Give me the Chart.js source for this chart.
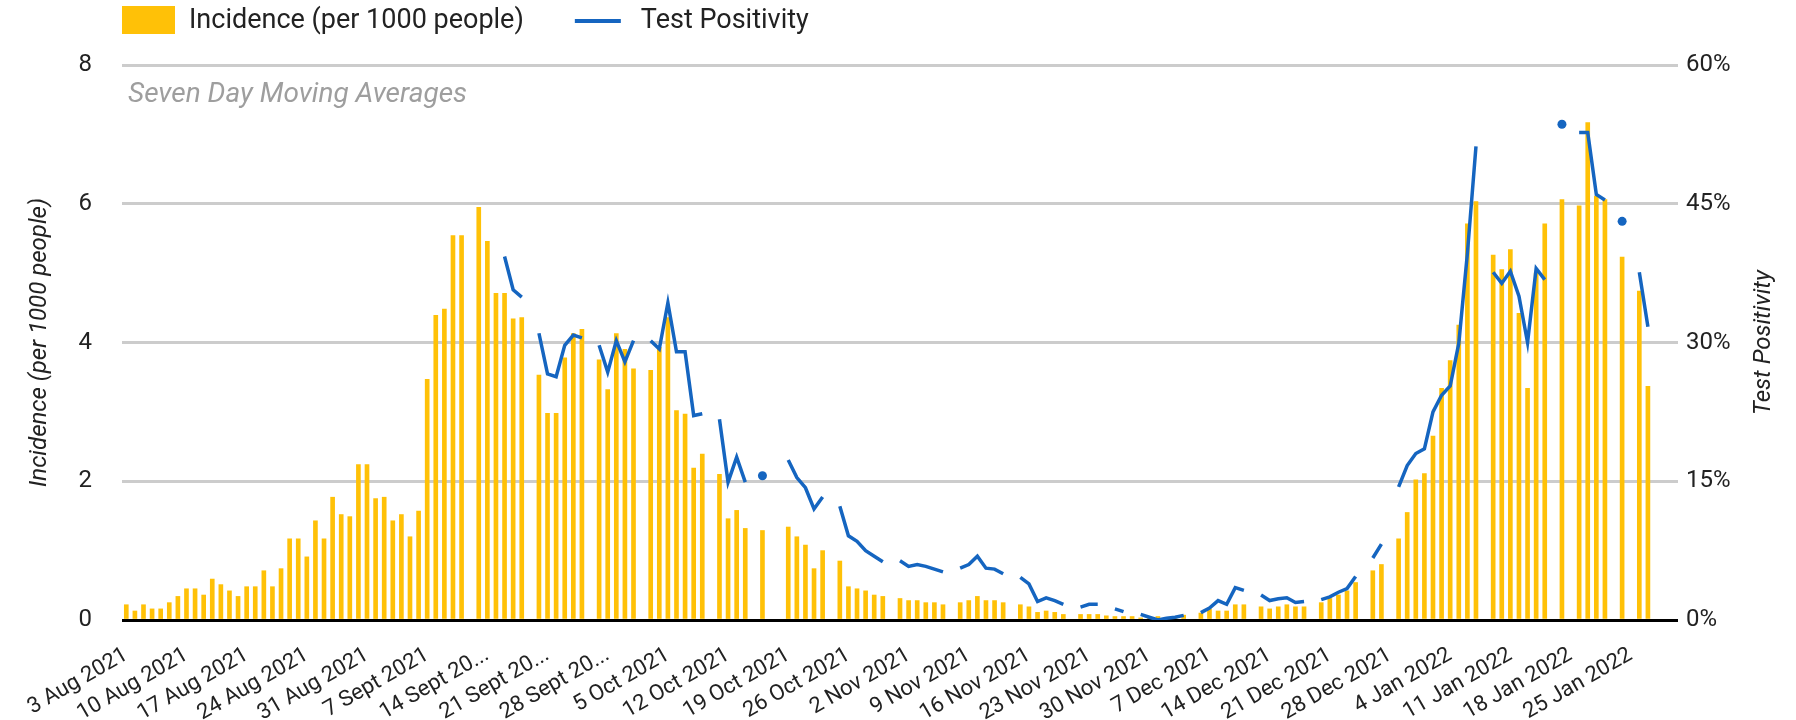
<!DOCTYPE html>
<html>
<head>
<meta charset="utf-8">
<script src="https://cdn.jsdelivr.net/npm/chart.js@4/dist/chart.umd.min.js"></script>
<style>
  body { margin: 0; background: #fff; }
</style>
</head>
<body>
<canvas id="covidChart" width="1796" height="720"></canvas>
<script>
// daily values from 3 Aug 2021 to 30 Jan 2022 (null = no data that day)
const incidence = [
  0.22, 0.13, 0.22, 0.16, 0.16, 0.25, 0.34, 0.45, 0.45, 0.36,
  0.59, 0.51, 0.42, 0.34, 0.48, 0.48, 0.71, 0.48, 0.74, 1.17,
  1.17, 0.91, 1.43, 1.17, 1.77, 1.52, 1.49, 2.24, 2.24, 1.75,
  1.77, 1.43, 1.52, 1.20, 1.57, 3.47, 4.39, 4.48, 5.54, 5.54,
  null, 5.95, 5.46, 4.71, 4.71, 4.34, 4.36, null, 3.53, 2.98,
  2.98, 3.78, 4.13, 4.19, null, 3.75, 3.32, 4.13, 3.90, 3.62,
  null, 3.60, 3.93, 4.36, 3.02, 2.97, 2.19, 2.39, null, 2.10,
  1.46, 1.58, 1.32, null, 1.29, null, null, 1.34, 1.20, 1.08,
  0.74, 1.00, null, 0.85, 0.48, 0.45, 0.42, 0.36, 0.34, null,
  0.31, 0.28, 0.28, 0.25, 0.25, 0.22, null, 0.25, 0.28, 0.34,
  0.28, 0.28, 0.25, null, 0.22, 0.19, 0.11, 0.13, 0.11, 0.08,
  null, 0.08, 0.08, 0.08, 0.06, 0.05, 0.05, 0.05, 0.03, 0.03,
  0.05, 0.03, 0.03, 0.07, null, 0.10, 0.16, 0.13, 0.13, 0.22,
  0.22, null, 0.19, 0.16, 0.19, 0.22, 0.19, 0.19, null, 0.25,
  0.31, 0.36, 0.42, 0.54, null, 0.71, 0.80, null, 1.17, 1.55,
  2.02, 2.11, 2.65, 3.34, 3.74, 4.25, 5.71, 6.03, null, 5.26,
  5.05, 5.34, 4.42, 3.34, 5.00, 5.71, null, 6.06, null, 5.97,
  7.17, 6.11, 6.06, null, 5.23, null, 4.74, 3.37, null, null,
  null
];

const positivity = [
  null, null, null, null, null, null, null, null, null, null,
  null, null, null, null, null, null, null, null, null, null,
  null, null, null, null, null, null, null, null, null, null,
  null, null, null, null, null, null, null, null, null, null,
  null, null, null, null, 39.3, 35.7, 34.9, null, 31.0, 26.6,
  26.3, 29.7, 30.8, 30.5, null, 29.7, 26.8, 30.2, 27.9, 30.2,
  null, 30.2, 29.3, 34.3, 29.0, 29.0, 22.1, 22.3, null, 21.7,
  14.9, 17.6, 14.9, null, 15.6, null, null, 17.3, 15.4, 14.3,
  12.0, 13.3, null, 12.3, 9.1, 8.5, 7.5, 6.9, 6.3, null,
  6.4, 5.8, 6.0, 5.8, 5.5, 5.2, null, 5.6, 6.0, 6.9,
  5.6, 5.5, 5.0, null, 4.6, 3.9, 2.0, 2.4, 2.1, 1.7,
  null, 1.4, 1.7, 1.7, null, 1.2, 0.9, null, 0.6, 0.3,
  0.0, 0.2, 0.3, 0.5, null, 0.8, 1.3, 2.1, 1.7, 3.5,
  3.2, null, 2.7, 2.1, 2.3, 2.4, 1.9, 2.0, null, 2.2,
  2.5, 3.0, 3.4, 4.7, null, 6.7, 8.2, null, 14.4, 16.7,
  18.0, 18.5, 22.5, 24.3, 25.3, 29.9, 39.6, 51.2, null, 37.6,
  36.4, 37.7, 35.0, 30.0, 38.0, 36.8, null, 53.6, null, 52.7,
  52.7, 46.0, 45.4, null, 43.1, null, 37.6, 31.7, null, null,
  null
];

// one label per week, as printed under the axis
const tickLabels = [
  '3 Aug 2021', '10 Aug 2021', '17 Aug 2021', '24 Aug 2021', '31 Aug 2021',
  '7 Sept 2021', '14 Sept 20...', '21 Sept 20...', '28 Sept 20...',
  '5 Oct 2021', '12 Oct 2021', '19 Oct 2021', '26 Oct 2021',
  '2 Nov 2021', '9 Nov 2021', '16 Nov 2021', '23 Nov 2021', '30 Nov 2021',
  '7 Dec 2021', '14 Dec 2021', '21 Dec 2021', '28 Dec 2021',
  '4 Jan 2022', '11 Jan 2022', '18 Jan 2022', '25 Jan 2022'
];

const barColor = '#FFC107';
const lineColor = '#1565C0';
const textColor = '#222222';

// category labels: one per day
const days = [];
const start = new Date(2021, 7, 3);
for (let i = 0; i < incidence.length; i++) {
  const d = new Date(start);
  d.setDate(start.getDate() + i);
  days.push(d.toDateString());
}

// google-style dot for values with no neighbours
function isolatedRadius(ctx) {
  const i = ctx.dataIndex;
  const d = ctx.dataset.data;
  if (d[i] == null) return 0;
  const prev = i > 0 ? d[i - 1] : null;
  const next = i < d.length - 1 ? d[i + 1] : null;
  return (prev == null && next == null) ? 4.5 : 0;
}

const overlay = {
  id: 'overlay',
  afterDraw(chart) {
    const c = chart.ctx;
    const a = chart.chartArea;
    const line = chart.data.datasets[0];
    const bar = chart.data.datasets[1];
    c.save();
    c.textBaseline = 'middle';

    // legend
    c.font = '27px Roboto';
    c.fillStyle = bar.backgroundColor;
    c.fillRect(a.left, 6, 53, 28);
    c.fillStyle = textColor;
    c.fillText(bar.label, a.left + 67, 21);
    const lx = a.left + 67 + c.measureText(bar.label).width + 51;
    c.strokeStyle = line.borderColor;
    c.lineWidth = 4;
    c.beginPath();
    c.moveTo(lx, 21);
    c.lineTo(lx + 46, 21);
    c.stroke();
    c.fillText(line.label, lx + 66, 21);

    // subtitle inside the plot
    c.font = 'italic 28px Roboto';
    c.fillStyle = '#9e9e9e';
    c.fillText('Seven Day Moving Averages', a.left + 6, 95);

    // right axis title, reading upwards like the left one
    c.font = 'italic 24px Roboto';
    c.fillStyle = textColor;
    c.translate(1764, (a.top + a.bottom) / 2);
    c.rotate(-Math.PI / 2);
    c.textAlign = 'center';
    c.fillText('Test Positivity', 0, 0);
    c.restore();
  }
};

Chart.defaults.font.family = 'Roboto';

new Chart(document.getElementById('covidChart'), {
  data: {
    labels: days,
    datasets: [
      {
        type: 'line',
        label: 'Test Positivity',
        data: positivity,
        yAxisID: 'y1',
        borderColor: lineColor,
        backgroundColor: lineColor,
        borderWidth: 3.5,
        tension: 0,
        spanGaps: false,
        pointRadius: isolatedRadius,
        pointHoverRadius: isolatedRadius,
        pointBorderWidth: 0,
        order: 0
      },
      {
        type: 'bar',
        label: 'Incidence (per 1000 people)',
        data: incidence,
        yAxisID: 'y',
        backgroundColor: barColor,
        barThickness: 4,
        order: 1
      }
    ]
  },
  options: {
    responsive: false,
    animation: false,
    layout: { padding: { top: 65, left: 0, right: 0, bottom: 0 } },
    plugins: {
      legend: { display: false },
      tooltip: { enabled: false }
    },
    scales: {
      x: {
        type: 'category',
        offset: true,
        grid: { display: false },
        border: { display: false },
        ticks: {
          autoSkip: false,
          minRotation: 30,
          maxRotation: 30,
          padding: 14,
          color: textColor,
          font: { size: 22 },
          callback: function(v, i) {
            return i % 7 === 0 ? tickLabels[i / 7] : null;
          }
        },
        afterFit: function(s) { s.height = 100; }
      },
      y: {
        position: 'left',
        min: 0,
        max: 8,
        ticks: { stepSize: 2, padding: 30, color: textColor, font: { size: 24 } },
        grid: {
          drawTicks: false,
          lineWidth: 3,
          color: function(ctx) { return ctx.tick && ctx.tick.value === 0 ? '#000000' : '#cccccc'; }
        },
        border: { display: false },
        title: {
          display: true,
          text: 'Incidence (per 1000 people)',
          color: textColor,
          font: { size: 24, style: 'italic' },
          padding: { top: 26, bottom: 0 }
        },
        afterFit: function(s) { s.width = 122; }
      },
      y1: {
        position: 'right',
        min: 0,
        max: 60,
        ticks: {
          stepSize: 15,
          padding: 8,
          color: textColor,
          font: { size: 24 },
          callback: function(v) { return v + '%'; }
        },
        grid: { display: false, drawTicks: false },
        border: { display: false },
        afterFit: function(s) { s.width = 118; }
      }
    }
  },
  plugins: [overlay]
});
</script>
</body>
</html>
